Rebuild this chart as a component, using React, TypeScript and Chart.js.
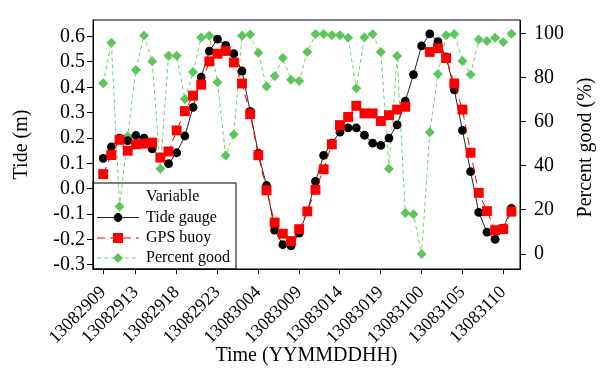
import { useEffect, useRef } from 'react';
import { Chart, registerables } from 'chart.js';

Chart.register(...registerables);

// Hours after 13082909 (hourly samples)
const hours = [
  0, 1, 2, 3, 4, 5, 6, 7, 8, 9, 10, 11, 12, 13, 14, 15, 16, 17, 18, 19, 20, 21, 22, 23, 24,
  25, 26, 27, 28, 29, 30, 31, 32, 33, 34, 35, 36, 37, 38, 39, 40, 41, 42, 43, 44, 45, 46, 47, 48, 49, 50,
];

const tideGauge = [
  0.12, 0.165, 0.2, 0.19, 0.21, 0.2, 0.157, 0.125, 0.099, 0.142, 0.208, 0.321, 0.44, 0.542, 0.59,
  0.565, 0.532, 0.464, 0.305, 0.14, 0.013, -0.163, -0.22, -0.225, -0.175, -0.09, 0.029, 0.132, 0.18,
  0.223, 0.24, 0.24, 0.211, 0.18, 0.171, 0.2, 0.252, 0.345, 0.45, 0.563, 0.61, 0.58, 0.52, 0.39, 0.23,
  0.068, -0.093, -0.171, -0.199, -0.155, -0.077,
];

const gpsBuoy: (number | null)[] = [
  0.058, 0.133, 0.193, 0.15, 0.175, 0.178, 0.182, 0.123, 0.147, 0.23, 0.306, 0.367, 0.41, 0.502, 0.532,
  0.543, 0.498, 0.415, 0.294, 0.132, -0.006, -0.133, -0.177, -0.206, -0.159, -0.089, -0.004, 0.077,
  0.175, 0.251, 0.283, 0.327, 0.297, 0.297, 0.267, 0.29, 0.312, 0.323, null, null, 0.539, 0.554, 0.515,
  0.415, 0.312, 0.142, -0.016, -0.088, -0.163, -0.159, -0.09,
];

const percentGood = [
  77.5, 95.9, 21.6, 53.5, 83.5, 99.2, 87.5, 38.7, 90, 90, 70.3, 82.6, 98.3, 99, 77.9, 44.7, 54.2, 99.1,
  99.6, 91.3, 76, 80.8, 89, 79.1, 78.5, 91.7, 99.8, 99.8, 99.3, 99.3, 98.1, 75.2, 98.4, 99.8, 91.7, 38.7,
  89.9, 18.6, 18, 0, 55.3, 81.7, 99.3, 99.9, 87.6, 81.5, 97.4, 96.7, 98.1, 96.2, 100,
];

const timeTickHours = [0, 4, 9, 14, 19, 24, 29, 34, 39, 44, 49];
const timeTickLabels = [
  '13082909', '13082913', '13082918', '13082923', '13083004', '13083009',
  '13083014', '13083019', '13083100', '13083105', '13083110',
];
const tideTicks = [-0.3, -0.2, -0.1, 0, 0.1, 0.2, 0.3, 0.4, 0.5, 0.6];
const percentTicks = [0, 20, 40, 60, 80, 100];

const legendTitle = 'Variable';
const seriesNames = ['Tide gauge', 'GPS buoy', 'Percent good'];
const xTitle = 'Time (YYMMDDHH)';
const yTitle = 'Tide (m)';
const y2Title = 'Percent good (%)';

const FONT = "'Liberation Serif', 'Times New Roman', serif";
const GREEN = 'rgb(92,198,92)';
const GREEN_LINE = 'rgb(120,206,120)';

export default function App() {
  const ref = useRef<HTMLCanvasElement | null>(null);

  useEffect(() => {
    if (!ref.current) return;
    Chart.defaults.font.family = FONT;
    Chart.defaults.color = '#000';

    const overlay = {
      id: 'overlay',
      afterDraw(chart: any) {
        const { ctx, chartArea: a } = chart;
        ctx.save();
        ctx.strokeStyle = '#000';
        ctx.lineWidth = 1;
        ctx.strokeRect(a.left, a.top, a.right - a.left, a.bottom - a.top);

        // legend box
        const bx = a.left, by = 183, bw = 143, bh = a.bottom - 183;
        ctx.strokeRect(bx, by, bw, bh);
        ctx.font = `16px ${FONT}`;
        ctx.fillStyle = '#000';
        ctx.textBaseline = 'middle';
        ctx.textAlign = 'left';
        const tx = 146;
        ctx.fillText(legendTitle, tx, 197);
        const rows = [217.5, 238, 258];
        const x0 = 97, x1 = 139, mx = 118;
        // Tide gauge
        ctx.beginPath();
        ctx.strokeStyle = '#222';
        ctx.setLineDash([]);
        ctx.moveTo(x0, rows[0]); ctx.lineTo(x1, rows[0]); ctx.stroke();
        ctx.beginPath(); ctx.fillStyle = '#000';
        ctx.arc(mx, rows[0], 4.4, 0, Math.PI * 2); ctx.fill();
        // GPS buoy
        ctx.beginPath();
        ctx.strokeStyle = '#ff0000';
        ctx.setLineDash([8, 5]);
        ctx.moveTo(x0, rows[1]); ctx.lineTo(x1, rows[1]); ctx.stroke();
        ctx.setLineDash([]);
        ctx.fillStyle = '#ff0000';
        ctx.fillRect(mx - 5, rows[1] - 5, 10, 10);
        // Percent good
        ctx.beginPath();
        ctx.strokeStyle = GREEN_LINE;
        ctx.setLineDash([4, 3]);
        ctx.moveTo(x0, rows[2]); ctx.lineTo(x1, rows[2]); ctx.stroke();
        ctx.setLineDash([]);
        ctx.beginPath(); ctx.fillStyle = GREEN;
        ctx.moveTo(mx - 5, rows[2]); ctx.lineTo(mx, rows[2] - 5);
        ctx.lineTo(mx + 5, rows[2]); ctx.lineTo(mx, rows[2] + 5); ctx.closePath(); ctx.fill();

        ctx.fillStyle = '#000';
        for (let i = 0; i < seriesNames.length; i++) ctx.fillText(seriesNames[i], tx, rows[i]);

        // right axis title (reads bottom to top)
        ctx.save();
        ctx.translate(586, (a.top + a.bottom) / 2 + 3);
        ctx.rotate(-Math.PI / 2);
        ctx.font = `20px ${FONT}`;
        ctx.textAlign = 'center';
        ctx.textBaseline = 'middle';
        ctx.fillText(y2Title, 0, 0);
        ctx.restore();
        ctx.restore();
      },
    };

    const tickGrid = { drawOnChartArea: false, drawTicks: true, tickLength: 6, color: '#000' };

    const chart = new Chart(ref.current, {
      type: 'line',
      data: {
        datasets: [
          {
            label: seriesNames[1],
            data: hours.map((h, i) => ({ x: h, y: gpsBuoy[i] })) as any,
            yAxisID: 'y',
            borderColor: '#ff0000',
            backgroundColor: '#ff0000',
            borderWidth: 1,
            borderDash: [8, 5],
            pointStyle: 'rect',
            pointRadius: 7,
            pointBorderWidth: 0,
            spanGaps: false,
          },
          {
            label: seriesNames[0],
            data: hours.map((h, i) => ({ x: h, y: tideGauge[i] })),
            yAxisID: 'y',
            borderColor: '#222',
            backgroundColor: '#000',
            borderWidth: 1,
            pointStyle: 'circle',
            pointRadius: 4.4,
            pointBorderWidth: 0,
          },
          {
            label: seriesNames[2],
            data: hours.map((h, i) => ({ x: h, y: percentGood[i] })),
            yAxisID: 'y2',
            borderColor: GREEN_LINE,
            backgroundColor: GREEN,
            borderWidth: 1,
            borderDash: [4, 3],
            pointStyle: 'rectRot',
            pointRadius: 5,
            pointBorderWidth: 0,
          },
        ],
      },
      options: {
        responsive: false,
        animation: false,
        devicePixelRatio: 1,
        layout: { padding: { top: 8, left: 0, right: 0, bottom: 0 } },
        plugins: { legend: { display: false }, tooltip: { enabled: false } },
        elements: { line: { tension: 0 } },
        scales: {
          x: {
            type: 'linear',
            position: 'bottom',
            min: -1.25,
            max: 51.05,
            grid: { ...tickGrid, tickLength: 5 },
            border: { color: '#000', width: 1 },
            afterBuildTicks: (s: any) => {
              s.ticks = timeTickHours.map((v) => ({ value: v }));
            },
            afterFit: (s: any) => {
              s.height = 101;
            },
            ticks: {
              autoSkip: false,
              minRotation: 45,
              maxRotation: 45,
              padding: 8,
              font: { size: 18 },
              color: '#000',
              callback: (v: any) => {
                const i = timeTickHours.indexOf(Number(v));
                return i >= 0 ? timeTickLabels[i] : '';
              },
            },
            title: { display: true, text: xTitle, font: { size: 20 }, color: '#000', padding: { top: 0, bottom: 2 } },
          },
          y: {
            type: 'linear',
            position: 'left',
            min: -0.316,
            max: 0.665,
            grid: tickGrid,
            border: { color: '#000', width: 1 },
            afterBuildTicks: (s: any) => {
              s.ticks = tideTicks.map((v) => ({ value: v }));
            },
            afterFit: (s: any) => {
              s.width = 93;
            },
            ticks: {
              padding: 2,
              font: { size: 20 },
              color: '#000',
              callback: (v: any) => Number(v).toFixed(1),
            },
            title: { display: true, text: yTitle, font: { size: 20 }, color: '#000', padding: { top: 10, bottom: 0 } },
          },
          y2: {
            type: 'linear',
            position: 'right',
            min: -6.8,
            max: 106.2,
            grid: tickGrid,
            border: { color: '#000', width: 1 },
            afterBuildTicks: (s: any) => {
              s.ticks = percentTicks.map((v) => ({ value: v }));
            },
            afterFit: (s: any) => {
              s.width = 80;
            },
            ticks: {
              padding: 8,
              font: { size: 20 },
              color: '#000',
              callback: (v: any) => String(v),
            },
          },
        },
      },
      plugins: [overlay],
    });
    return () => chart.destroy();
  }, []);

  return (
    <div style={{ position: 'absolute', left: 0, top: 0, width: 600, height: 370, background: '#fff' }}>
      <canvas ref={ref} width={600} height={370} style={{ display: 'block' }} />
    </div>
  );
}
